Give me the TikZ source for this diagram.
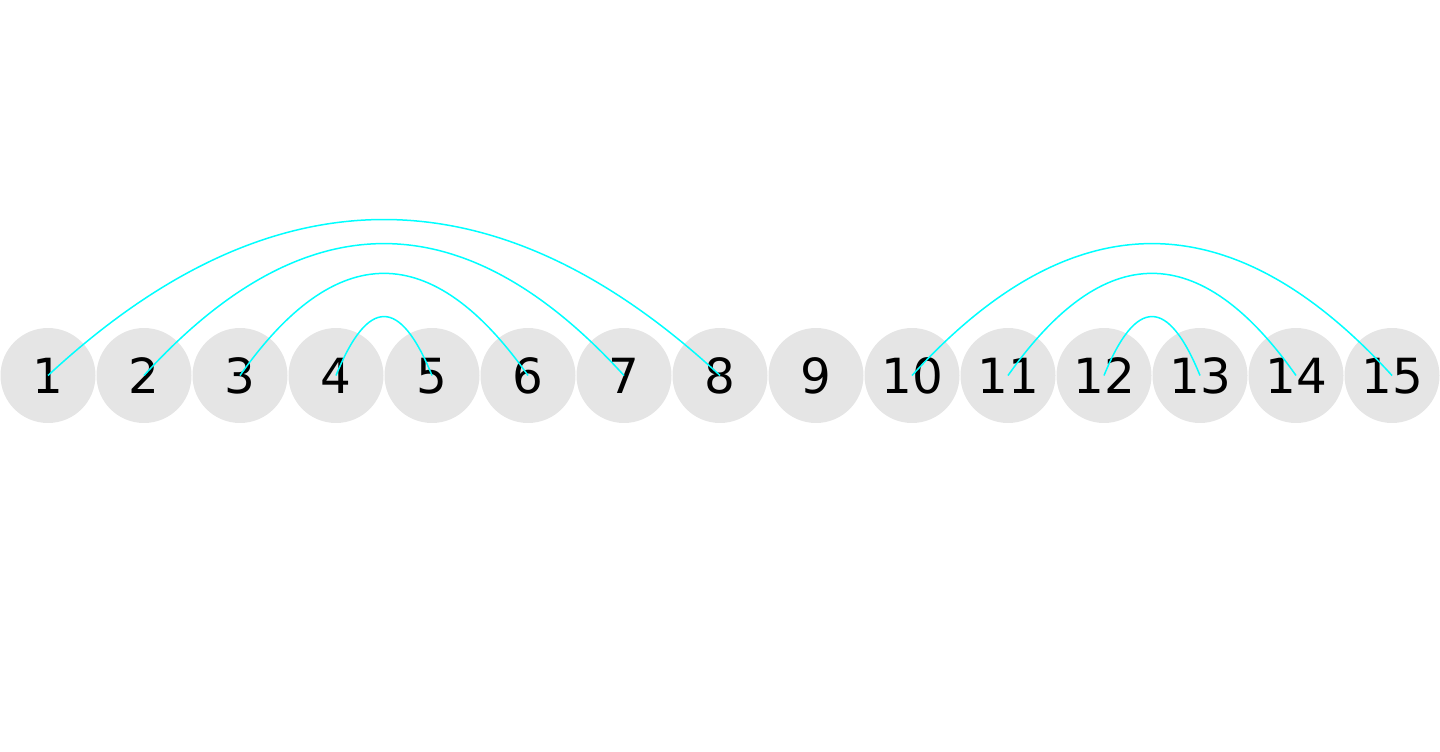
\documentclass[tikz,border=0pt]{standalone}
\usepackage{fontspec}
\setmainfont{DejaVu Sans}
\usetikzlibrary{calc}
\definecolor{nodegray}{HTML}{E5E5E5}
\definecolor{arccyan}{HTML}{00FFFF}
\newcommand\arcpair[3]{\draw[arcline] (n#1.center) .. controls ($(n#1.center)!1/3!(n#2.center)+(0,-#3)$) and ($(n#1.center)!2/3!(n#2.center)+(0,-#3)$) .. (n#2.center);}
\begin{document}
\begin{tikzpicture}[x=0.5pt,y=-0.5pt,
  vtx/.style={circle, fill=nodegray, minimum size=47.5pt, inner sep=0pt, text height=17.6pt, text depth=0pt, font=\fontsize{24.2}{28}\selectfont},
  arcline/.style={draw=arccyan, line width=0.75pt}]
\useasboundingbox (0,0) rectangle (1440,751);
\foreach \i in {1,...,15}
  \node[vtx] (n\i) at ({48+96*(\i-1)},375.5) {\i};
\arcpair{1}{8}{208}
\arcpair{2}{7}{175.9}
\arcpair{3}{6}{136.2}
\arcpair{4}{5}{78.6}
\arcpair{10}{15}{175.9}
\arcpair{11}{14}{136.2}
\arcpair{12}{13}{78.6}
\end{tikzpicture}
\end{document}
